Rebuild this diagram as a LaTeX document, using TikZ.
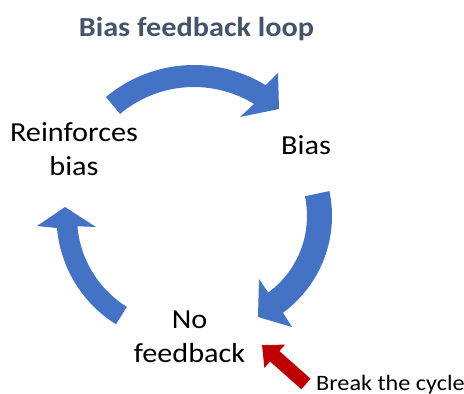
\documentclass[tikz,border=0pt]{standalone}
\usepackage{fontspec}
\setmainfont{Carlito}[FakeStretch=1.1]
\usetikzlibrary{arrows.meta,calc}
\definecolor{arrowblue}{HTML}{4472C4}
\definecolor{titlegray}{HTML}{44546A}
\definecolor{breakred}{HTML}{C00000}
\begin{document}
\begin{tikzpicture}[x=1pt,y=-1pt,
  lbl/.style={inner sep=0pt, align=center, anchor=base, font=\fontsize{27.5}{33.5}\selectfont},
  titlelbl/.style={inner sep=0pt, anchor=base, text=titlegray, font=\bfseries\fontsize{27.5}{33.5}\selectfont},
  smalllbl/.style={inner sep=0pt, anchor=base west, font=\fontsize{22}{26}\selectfont},
  blockarrow/.style={fill=arrowblue, draw=none},
  redarrow/.style={draw=breakred, line width=14pt, -{Triangle[width=30pt,length=17pt]}}]
\useasboundingbox (0,0) rectangle (464,394);

\node[titlelbl] (title) at (196.5,36) {Bias feedback loop};
\node[lbl] (reinf) at (74,175) {Reinforces\\bias};
\node[lbl] (bias) at (306,154) {Bias};
\node[lbl] (nofb) at (189.5,362) {No\\feedback};
\node[smalllbl] (brk) at (316,390) {Break the cycle};

% top arrow: Reinforces bias -> Bias
\fill[blockarrow] plot[domain=-130:-58.5, samples=40] ({194+137*cos(\x)},{202+137*sin(\x)})
  -- (278,73) -- (279,109) -- (240,117)
  -- plot[domain=-58.5:-130, samples=40] ({194+115*cos(\x)},{202+115*sin(\x)}) -- cycle;

% right arrow: Bias -> No feedback
\fill[blockarrow] plot[domain=-12:53.7, samples=40] ({212+120*cos(\x)},{216+120*sin(\x)})
  -- (292,327) -- (258,317) -- (259,279)
  -- plot[domain=53.7:-12, samples=40] ({212+95*cos(\x)},{216+95*sin(\x)}) -- cycle;

% left arrow: No feedback -> Reinforces bias
\fill[blockarrow] plot[domain=122:175, samples=40] ({183+126.5*cos(\x)},{217+126.5*sin(\x)})
  -- (37,226) -- (65,207) -- (96,227)
  -- plot[domain=175:122, samples=40] ({183+106*cos(\x)},{217+106*sin(\x)}) -- cycle;

% red arrow: Break the cycle -> No feedback
\coordinate (redtail) at (306,384);
\coordinate (redtip) at (262,345);
\draw[redarrow] (redtail) -- (redtip);
\end{tikzpicture}
\end{document}
